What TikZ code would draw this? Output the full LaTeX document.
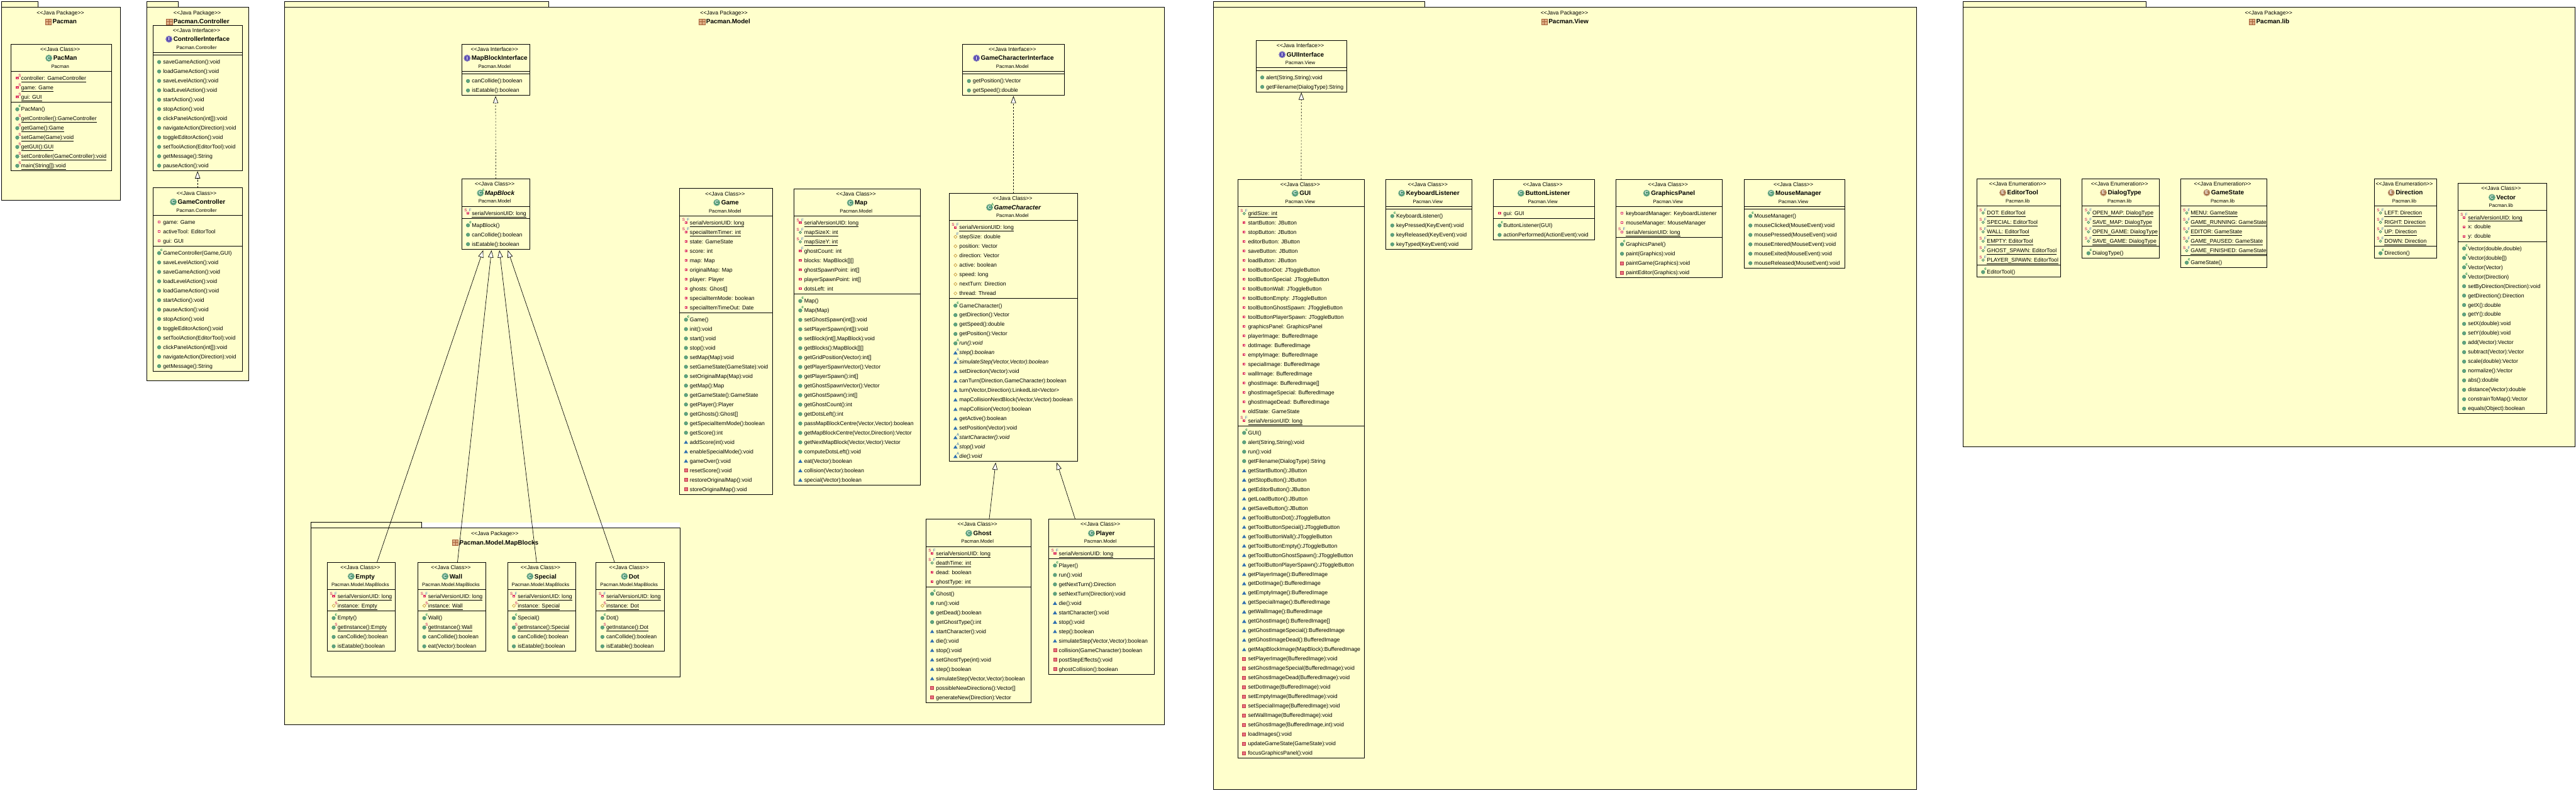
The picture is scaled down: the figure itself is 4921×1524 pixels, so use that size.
\documentclass[tikz,border=0pt]{standalone}
\usepackage{fontspec}
\usetikzlibrary{arrows.meta}
\newfontfamily\uf{Liberation Sans}
\definecolor{pkgy}{HTML}{FFFFCC}
\definecolor{privred}{HTML}{DE3A62}
\definecolor{sred}{HTML}{C8004E}
\definecolor{fblue}{HTML}{3A68B8}
\definecolor{cgreen}{HTML}{0A8040}
\definecolor{pubg}{HTML}{5FA37F}
\definecolor{pubd}{HTML}{3F8A66}
\definecolor{pkgb}{HTML}{2F6FB0}
\definecolor{mred}{HTML}{E8707C}
\definecolor{mredd}{HTML}{C23A4C}
\definecolor{protc}{HTML}{C89A3A}
\definecolor{clsg}{HTML}{4B9670}
\definecolor{ifp}{HTML}{5A4DB0}
\definecolor{enb}{HTML}{A8744A}
\definecolor{pkbr}{HTML}{DDAE85}
\definecolor{pkbd}{HTML}{A8623A}
\tikzset{
  basetext/.style={inner sep=0pt,outer sep=0pt,text=black},
  stereotext/.style={basetext,font=\uf\fontsize{10.5}{12}\selectfont},
  titletext/.style={basetext,font=\uf\bfseries\fontsize{12}{14}\selectfont},
  pkgtext/.style={basetext,font=\uf\fontsize{9.3}{11}\selectfont},
  rowtext/.style={basetext,font=\uf\fontsize{10.5}{12}\selectfont},
  supmark/.style={inner sep=0pt,outer sep=0pt,font=\uf\fontsize{7.5}{8}\selectfont},
  letter/.style={inner sep=0pt,outer sep=0pt,text=white,font=\uf\bfseries\fontsize{9}{10}\selectfont},
  classbox/.style={draw=black,line width=1pt,inner sep=0pt,outer sep=0pt},
  pkgbody/.style={draw=black,fill=pkgy,line width=1pt,inner sep=0pt,outer sep=0pt},
  parentarrow/.style={-{Triangle[open,fill=white,length=14pt,width=10pt]},black,line width=.8pt},
  realarrow/.style={parentarrow,dash pattern=on 3pt off 3pt},
}
\newcount\nid
\newcommand\tx[3][]{\global\advance\nid by 1 \node[#1] (n\the\nid) at (#2) {#3};}
\newcommand\ulin[1]{\setbox0=\hbox{#1}\rlap{\vrule width\wd0 height -2.9pt depth 3.7pt}\box0 }
% icon pieces (origin: box left edge, row baseline; y grows downward)
\newcommand\sqi{\fill[privred] (9.5,-6.5) rectangle (14.5,-1.5); \fill[white] (11.2,-4.8) rectangle (12.8,-3.2);}
\newcommand\hci{\draw[pubd,fill=pkgy,line width=1pt] (12,-3.5) circle (2.3pt);}
\newcommand\dmi{\draw[protc,line width=.8pt] (9,-4)--(12,-7)--(15,-4)--(12,-1)--cycle;}
\newcommand\pbi{\fill[pubg,draw=pubd,line width=.5pt] (12,-3.5) circle (3.4pt);}
\newcommand\tri{\fill[pkgb] (8,-.5)--(16,-.5)--(12,-7)--cycle;}
\newcommand\rdi{\fill[mred,draw=mredd,line width=.8pt] (9,-6.5) rectangle (15,-.5);}
\newcommand\Smark[1][16.7]{\tx[supmark,text=sred]{#1,-9}{S}}
\newcommand\Fmark[1][16.3]{\tx[supmark,text=fblue]{#1,-9}{F}}
\newcommand\Cmark{\tx[supmark,text=cgreen,font=\uf\bfseries\fontsize{7.5}{8}\selectfont]{16.7,-9}{c}}
\newcommand\Amark[1]{\tx[supmark,text=#1]{16.7,-9}{A}}
% kinds
\newcommand\ica{\sqi}\newcommand\fmta[1]{#1}
\newcommand\icas{\sqi\Smark}\newcommand\fmtas[1]{\ulin{#1}}
\newcommand\icasf{\sqi\Smark[7.5]\Fmark}\newcommand\fmtasf[1]{\ulin{#1}}
\newcommand\icaf{\sqi\Fmark}\newcommand\fmtaf[1]{#1}
\newcommand\icgsf{\hci\Smark[7.5]\Fmark}\newcommand\fmtgsf[1]{\ulin{#1}}
\newcommand\icp{\dmi}\newcommand\fmtp[1]{#1}
\newcommand\icpf{\dmi\Fmark}\newcommand\fmtpf[1]{#1}
\newcommand\icps{\dmi\Smark}\newcommand\fmtps[1]{\ulin{#1}}
\newcommand\icm{\pbi}\newcommand\fmtm[1]{#1}
\newcommand\icc{\pbi\Cmark}\newcommand\fmtc[1]{#1}
\newcommand\icms{\pbi\Smark}\newcommand\fmtms[1]{\ulin{#1}}
\newcommand\icma{\pbi\Amark{cgreen}}\newcommand\fmtma[1]{\itshape #1}
\newcommand\ict{\tri}\newcommand\fmtt[1]{#1}
\newcommand\icta{\tri\Amark{pkgb}}\newcommand\fmtta[1]{\itshape #1}
\newcommand\icr{\rdi}\newcommand\fmtr[1]{#1}
% class builder
\newcommand\cls[8]{%
  \def\cid{#1}\def\cxa{#2}\def\cxb{#3}\def\cyt{#4}%
  \pgfmathsetmacro\cxm{(#2+#3)/2}%
  \tx[stereotext,anchor=base]{\cxm-2,#4+13.5}{<<Java #5>>}%
  \tx[titletext,anchor=base]{\cxm+7.5,#4+31}{#7}%
  \begin{scope}[shift={([xshift=-8.5pt,yshift=4.2pt]n\the\nid.base west)}]
    \csname ci#6\endcsname
  \end{scope}
  \tx[pkgtext,anchor=base]{\cxm-2,#4+46}{#8}%
  \pgfmathsetmacro\cb{#4+64}%
}
\newcommand\cimk[2]{\fill[#1] (0,0) circle (6.5pt); \draw[white,opacity=.45,line width=.5pt] (0,0) circle (5.6pt); \tx[letter]{0,0}{#2}}
\newcommand\cic{\cimk{clsg}{C}}
\newcommand\cii{\cimk{ifp}{I}}
\newcommand\cie{\cimk{enb}{E}}
\newcommand\cica{\cimk{clsg}{C}\tx[supmark,text=cgreen]{5.5,-5}{A}}
\newcommand\sect{%
  \pgfmathsetmacro\cyy{\cb-12}%
  \draw[black,line width=1pt] (\cxa,\cyy)--(\cxb,\cyy);%
  \pgfmathsetmacro\cb{\cyy+17}%
}
\newcommand\row[2]{%
  \begin{scope}[shift={(\cxa,\cb)}]
    \csname ic#1\endcsname
    \tx[rowtext,anchor=base west]{19.5,0}{\csname fmt#1\endcsname{#2}}
  \end{scope}
  \pgfmathsetmacro\cb{\cb+18}%
}
\newcommand\closecls{%
  \pgfmathsetmacro\cyy{\cb-12}%
  \node[classbox,anchor=north west,minimum width={(\cxb-\cxa)*1pt},minimum height={(\cyy-\cyt)*1pt}] (\cid) at (\cxa,\cyt) {};%
}
% package: id x1 x2 tabright ytab ybody ybot title
\newcommand\pkg[8]{%
  \draw[black,fill=pkgy,line width=1pt] (#2,#5) rectangle (#4,#6);%
  \node[pkgbody,anchor=north west,minimum width={(#3-#2)*1pt},minimum height={(#7-#6)*1pt}] (#1) at (#2,#6) {};%
  \pgfmathsetmacro\pkm{(#2+#3)/2}%
  \tx[stereotext,anchor=base]{\pkm-1,#6+14}{<<Java Package>>}%
  \tx[titletext,anchor=base]{\pkm+7,#6+31.5}{#8}%
  \begin{scope}[shift={([xshift=-8pt,yshift=4.2pt]n\the\nid.base west)}]
    \fill[pkbr,draw=pkbd,line width=.6pt] (-5.5,-5.5) rectangle (5.5,5.5);
    \draw[pkbd,line width=.6pt] (-5.5,0)--(5.5,0) (0,-5.5)--(0,5.5);
  \end{scope}
}
\begin{document}
\begin{tikzpicture}[x=1pt,y=-1pt]
\fill[white,use as bounding box] (0,0) rectangle (4921,1524);
% ---------- packages
\pkg{pkgroot}{3}{230}{72}{3}{14}{382}{Pacman}
\pkg{pkgctrl}{281}{474.5}{340}{3}{14}{727}{Pacman.Controller}
\pkg{pkgmodel}{544}{2224}{1048}{3}{14}{1384}{Pacman.Model}
\fill[white] (806,998) rectangle (1299,1009);
\pkg{pkgblocks}{593.5}{1299}{806}{998}{1009}{1293}{Pacman.Model.MapBlocks}
\pkg{pkgview}{2318}{3661}{2722}{3}{14}{1508}{Pacman.View}
\pkg{pkglib}{3750}{4919.5}{4100}{3}{14}{853}{Pacman.lib}
% ---------- Pacman
\cls{pacman}{21}{213}{84.3}{Class}{c}{PacMan}{Pacman}
\sect
\row{as}{controller: GameController}
\row{as}{game: Game}
\row{as}{gui: GUI}
\sect
\row{c}{PacMan()}
\row{ms}{getController():GameController}
\row{ms}{getGame():Game}
\row{ms}{setGame(Game):void}
\row{ms}{getGUI():GUI}
\row{ms}{setController(GameController):void}
\row{ms}{main(String[]):void}
\closecls
% ---------- Controller
\cls{ctrlif}{292}{463}{48}{Interface}{i}{ControllerInterface}{Pacman.Controller}
\sect\sect
\row{m}{saveGameAction():void}
\row{m}{loadGameAction():void}
\row{m}{saveLevelAction():void}
\row{m}{loadLevelAction():void}
\row{m}{startAction():void}
\row{m}{stopAction():void}
\row{m}{clickPanelAction(int[]):void}
\row{m}{navigateAction(Direction):void}
\row{m}{toggleEditorAction():void}
\row{m}{setToolAction(EditorTool):void}
\row{m}{getMessage():String}
\row{m}{pauseAction():void}
\closecls
\cls{gamectrl}{292}{463}{359}{Class}{c}{GameController}{Pacman.Controller}
\sect
\row{a}{game: Game}
\row{a}{activeTool: EditorTool}
\row{a}{gui: GUI}
\sect
\row{c}{GameController(Game,GUI)}
\row{m}{saveLevelAction():void}
\row{m}{saveGameAction():void}
\row{m}{loadLevelAction():void}
\row{m}{loadGameAction():void}
\row{m}{startAction():void}
\row{m}{pauseAction():void}
\row{m}{stopAction():void}
\row{m}{toggleEditorAction():void}
\row{m}{setToolAction(EditorTool):void}
\row{m}{clickPanelAction(int[]):void}
\row{m}{navigateAction(Direction):void}
\row{m}{getMessage():String}
\closecls
% ---------- Model
\cls{mbif}{882}{1011.5}{84.3}{Interface}{i}{MapBlockInterface}{Pacman.Model}
\sect\sect
\row{m}{canCollide():boolean}
\row{m}{isEatable():boolean}
\closecls
\cls{mapblock}{882}{1012}{342}{Class}{ca}{\itshape MapBlock}{Pacman.Model}
\sect
\row{asf}{serialVersionUID: long}
\sect
\row{c}{MapBlock()}
\row{m}{canCollide():boolean}
\row{m}{isEatable():boolean}
\closecls
\cls{game}{1298.4}{1475.7}{360.3}{Class}{c}{Game}{Pacman.Model}
\sect
\row{asf}{serialVersionUID: long}
\row{asf}{specialItemTimer: int}
\row{a}{state: GameState}
\row{a}{score: int}
\row{a}{map: Map}
\row{a}{originalMap: Map}
\row{a}{player: Player}
\row{a}{ghosts: Ghost[]}
\row{a}{specialItemMode: boolean}
\row{a}{specialItemTimeOut: Date}
\sect
\row{c}{Game()}
\row{m}{init():void}
\row{m}{start():void}
\row{m}{stop():void}
\row{m}{setMap(Map):void}
\row{m}{setGameState(GameState):void}
\row{m}{setOriginalMap(Map):void}
\row{m}{getMap():Map}
\row{m}{getGameState():GameState}
\row{m}{getPlayer():Player}
\row{m}{getGhosts():Ghost[]}
\row{m}{getSpecialItemMode():boolean}
\row{m}{getScore():int}
\row{t}{addScore(int):void}
\row{t}{enableSpecialMode():void}
\row{t}{gameOver():void}
\row{r}{resetScore():void}
\row{r}{restoreOriginalMap():void}
\row{r}{storeOriginalMap():void}
\closecls
\cls{map}{1516.8}{1758}{360.6}{Class}{c}{Map}{Pacman.Model}
\sect
\row{asf}{serialVersionUID: long}
\row{gsf}{mapSizeX: int}
\row{gsf}{mapSizeY: int}
\row{af}{ghostCount: int}
\row{a}{blocks: MapBlock[][]}
\row{a}{ghostSpawnPoint: int[]}
\row{a}{playerSpawnPoint: int[]}
\row{a}{dotsLeft: int}
\sect
\row{c}{Map()}
\row{c}{Map(Map)}
\row{m}{setGhostSpawn(int[]):void}
\row{m}{setPlayerSpawn(int[]):void}
\row{m}{setBlock(int[],MapBlock):void}
\row{m}{getBlocks():MapBlock[][]}
\row{m}{getGridPosition(Vector):int[]}
\row{m}{getPlayerSpawnVector():Vector}
\row{m}{getPlayerSpawn():int[]}
\row{m}{getGhostSpawnVector():Vector}
\row{m}{getGhostSpawn():int[]}
\row{m}{getGhostCount():int}
\row{m}{getDotsLeft():int}
\row{m}{passMapBlockCentre(Vector,Vector):boolean}
\row{m}{getMapBlockCentre(Vector,Direction):Vector}
\row{m}{getNextMapBlock(Vector,Vector):Vector}
\row{m}{computeDotsLeft():void}
\row{t}{eat(Vector):boolean}
\row{t}{collision(Vector):boolean}
\row{t}{special(Vector):boolean}
\closecls
\cls{gcif}{1839}{2033}{84.3}{Interface}{i}{GameCharacterInterface}{Pacman.Model}
\sect\sect
\row{m}{getPosition():Vector}
\row{m}{getSpeed():double}
\closecls
\cls{gamechar}{1813.2}{2059}{369.5}{Class}{ca}{\itshape GameCharacter}{Pacman.Model}
\sect
\row{asf}{serialVersionUID: long}
\row{pf}{stepSize: double}
\row{p}{position: Vector}
\row{p}{direction: Vector}
\row{p}{active: boolean}
\row{p}{speed: long}
\row{p}{nextTurn: Direction}
\row{p}{thread: Thread}
\sect
\row{c}{GameCharacter()}
\row{m}{getDirection():Vector}
\row{m}{getSpeed():double}
\row{m}{getPosition():Vector}
\row{ma}{run():void}
\row{ta}{step():boolean}
\row{ta}{simulateStep(Vector,Vector):boolean}
\row{t}{setDirection(Vector):void}
\row{t}{canTurn(Direction,GameCharacter):boolean}
\row{t}{turn(Vector,Direction):LinkedList<Vector>}
\row{t}{mapCollisionNextBlock(Vector,Vector):boolean}
\row{t}{mapCollision(Vector):boolean}
\row{t}{getActive():boolean}
\row{t}{setPosition(Vector):void}
\row{ta}{startCharacter():void}
\row{ta}{stop():void}
\row{ta}{die():void}
\closecls
\cls{ghost}{1768.7}{1969.7}{992}{Class}{c}{Ghost}{Pacman.Model}
\sect
\row{asf}{serialVersionUID: long}
\row{gsf}{deathTime: int}
\row{a}{dead: boolean}
\row{a}{ghostType: int}
\sect
\row{c}{Ghost()}
\row{m}{run():void}
\row{m}{getDead():boolean}
\row{m}{getGhostType():int}
\row{t}{startCharacter():void}
\row{t}{die():void}
\row{t}{stop():void}
\row{t}{setGhostType(int):void}
\row{t}{step():boolean}
\row{t}{simulateStep(Vector,Vector):boolean}
\row{r}{possibleNewDirections():Vector[]}
\row{r}{generateNew(Direction):Vector}
\closecls
\cls{player}{2003.3}{2204.7}{992}{Class}{c}{Player}{Pacman.Model}
\sect
\row{asf}{serialVersionUID: long}
\sect
\row{c}{Player()}
\row{m}{run():void}
\row{m}{getNextTurn():Direction}
\row{m}{setNextTurn(Direction):void}
\row{t}{die():void}
\row{t}{startCharacter():void}
\row{t}{stop():void}
\row{t}{step():boolean}
\row{t}{simulateStep(Vector,Vector):boolean}
\row{r}{collision(GameCharacter):boolean}
\row{r}{postStepEffects():void}
\row{r}{ghostCollision():boolean}
\closecls
% ---------- MapBlocks
\cls{empty}{625.4}{755}{1074.3}{Class}{c}{Empty}{Pacman.Model.MapBlocks}
\sect
\row{asf}{serialVersionUID: long}
\row{ps}{instance: Empty}
\sect
\row{c}{Empty()}
\row{ms}{getInstance():Empty}
\row{m}{canCollide():boolean}
\row{m}{isEatable():boolean}
\closecls
\cls{wall}{798.5}{928.4}{1074.3}{Class}{c}{Wall}{Pacman.Model.MapBlocks}
\sect
\row{asf}{serialVersionUID: long}
\row{ps}{instance: Wall}
\sect
\row{c}{Wall()}
\row{ms}{getInstance():Wall}
\row{m}{canCollide():boolean}
\row{m}{eat(Vector):boolean}
\closecls
\cls{special}{969.6}{1099.5}{1074.3}{Class}{c}{Special}{Pacman.Model.MapBlocks}
\sect
\row{asf}{serialVersionUID: long}
\row{ps}{instance: Special}
\sect
\row{c}{Special()}
\row{ms}{getInstance():Special}
\row{m}{canCollide():boolean}
\row{m}{isEatable():boolean}
\closecls
\cls{dot}{1138.8}{1268.7}{1074.3}{Class}{c}{Dot}{Pacman.Model.MapBlocks}
\sect
\row{asf}{serialVersionUID: long}
\row{ps}{instance: Dot}
\sect
\row{c}{Dot()}
\row{ms}{getInstance():Dot}
\row{m}{canCollide():boolean}
\row{m}{isEatable():boolean}
\closecls
% ---------- View
\cls{guiif}{2399.3}{2572.7}{77.5}{Interface}{i}{GUIInterface}{Pacman.View}
\sect\sect
\row{m}{alert(String,String):void}
\row{m}{getFilename(DialogType):String}
\closecls
\cls{gui}{2364.7}{2606.7}{342.5}{Class}{c}{GUI}{Pacman.View}
\sect
\row{gsf}{gridSize: int}
\row{a}{startButton: JButton}
\row{a}{stopButton: JButton}
\row{a}{editorButton: JButton}
\row{a}{saveButton: JButton}
\row{a}{loadButton: JButton}
\row{a}{toolButtonDot: JToggleButton}
\row{a}{toolButtonSpecial: JToggleButton}
\row{a}{toolButtonWall: JToggleButton}
\row{a}{toolButtonEmpty: JToggleButton}
\row{a}{toolButtonGhostSpawn: JToggleButton}
\row{a}{toolButtonPlayerSpawn: JToggleButton}
\row{a}{graphicsPanel: GraphicsPanel}
\row{a}{playerImage: BufferedImage}
\row{a}{dotImage: BufferedImage}
\row{a}{emptyImage: BufferedImage}
\row{a}{specialImage: BufferedImage}
\row{a}{wallImage: BufferedImage}
\row{a}{ghostImage: BufferedImage[]}
\row{a}{ghostImageSpecial: BufferedImage}
\row{a}{ghostImageDead: BufferedImage}
\row{a}{oldState: GameState}
\row{asf}{serialVersionUID: long}
\sect
\row{c}{GUI()}
\row{m}{alert(String,String):void}
\row{m}{run():void}
\row{m}{getFilename(DialogType):String}
\row{t}{getStartButton():JButton}
\row{t}{getStopButton():JButton}
\row{t}{getEditorButton():JButton}
\row{t}{getLoadButton():JButton}
\row{t}{getSaveButton():JButton}
\row{t}{getToolButtonDot():JToggleButton}
\row{t}{getToolButtonSpecial():JToggleButton}
\row{t}{getToolButtonWall():JToggleButton}
\row{t}{getToolButtonEmpty():JToggleButton}
\row{t}{getToolButtonGhostSpawn():JToggleButton}
\row{t}{getToolButtonPlayerSpawn():JToggleButton}
\row{t}{getPlayerImage():BufferedImage}
\row{t}{getDotImage():BufferedImage}
\row{t}{getEmptyImage():BufferedImage}
\row{t}{getSpecialImage():BufferedImage}
\row{t}{getWallImage():BufferedImage}
\row{t}{getGhostImage():BufferedImage[]}
\row{t}{getGhostImageSpecial():BufferedImage}
\row{t}{getGhostImageDead():BufferedImage}
\row{t}{getMapBlockImage(MapBlock):BufferedImage}
\row{r}{setPlayerImage(BufferedImage):void}
\row{r}{setGhostImageSpecial(BufferedImage):void}
\row{r}{setGhostImageDead(BufferedImage):void}
\row{r}{setDotImage(BufferedImage):void}
\row{r}{setEmptyImage(BufferedImage):void}
\row{r}{setSpecialImage(BufferedImage):void}
\row{r}{setWallImage(BufferedImage):void}
\row{r}{setGhostImage(BufferedImage,int):void}
\row{r}{loadImages():void}
\row{r}{updateGameState(GameState):void}
\row{r}{focusGraphicsPanel():void}
\closecls
\cls{keyl}{2647.7}{2811.4}{342.3}{Class}{c}{KeyboardListener}{Pacman.View}
\sect\sect
\row{c}{KeyboardListener()}
\row{m}{keyPressed(KeyEvent):void}
\row{m}{keyReleased(KeyEvent):void}
\row{m}{keyTyped(KeyEvent):void}
\closecls
\cls{btnl}{2852.7}{3045.7}{342.3}{Class}{c}{ButtonListener}{Pacman.View}
\sect
\row{a}{gui: GUI}
\sect
\row{c}{ButtonListener(GUI)}
\row{m}{actionPerformed(ActionEvent):void}
\closecls
\cls{gpanel}{3086.5}{3290.5}{342.3}{Class}{c}{GraphicsPanel}{Pacman.View}
\sect
\row{a}{keyboardManager: KeyboardListener}
\row{a}{mouseManager: MouseManager}
\row{asf}{serialVersionUID: long}
\sect
\row{c}{GraphicsPanel()}
\row{m}{paint(Graphics):void}
\row{r}{paintGame(Graphics):void}
\row{r}{paintEditor(Graphics):void}
\closecls
\cls{mousem}{3331.8}{3524}{342.3}{Class}{c}{MouseManager}{Pacman.View}
\sect\sect
\row{c}{MouseManager()}
\row{m}{mouseClicked(MouseEvent):void}
\row{m}{mousePressed(MouseEvent):void}
\row{m}{mouseEntered(MouseEvent):void}
\row{m}{mouseExited(MouseEvent):void}
\row{m}{mouseReleased(MouseEvent):void}
\closecls
% ---------- lib
\cls{edtool}{3776.3}{3936.7}{341.3}{Enumeration}{e}{EditorTool}{Pacman.lib}
\sect
\row{gsf}{DOT: EditorTool}
\row{gsf}{SPECIAL: EditorTool}
\row{gsf}{WALL: EditorTool}
\row{gsf}{EMPTY: EditorTool}
\row{gsf}{GHOST\_SPAWN: EditorTool}
\row{gsf}{PLAYER\_SPAWN: EditorTool}
\sect
\row{c}{EditorTool()}
\closecls
\cls{dlgtype}{3977.6}{4124.5}{341.3}{Enumeration}{e}{DialogType}{Pacman.lib}
\sect
\row{gsf}{OPEN\_MAP: DialogType}
\row{gsf}{SAVE\_MAP: DialogType}
\row{gsf}{OPEN\_GAME: DialogType}
\row{gsf}{SAVE\_GAME: DialogType}
\sect
\row{c}{DialogType()}
\closecls
\cls{gstate}{4165.3}{4330.6}{341.3}{Enumeration}{e}{GameState}{Pacman.lib}
\sect
\row{gsf}{MENU: GameState}
\row{gsf}{GAME\_RUNNING: GameState}
\row{gsf}{EDITOR: GameState}
\row{gsf}{GAME\_PAUSED: GameState}
\row{gsf}{GAME\_FINISHED: GameState}
\sect
\row{c}{GameState()}
\closecls
\cls{dirn}{4535.5}{4654.4}{341.3}{Enumeration}{e}{Direction}{Pacman.lib}
\sect
\row{gsf}{LEFT: Direction}
\row{gsf}{RIGHT: Direction}
\row{gsf}{UP: Direction}
\row{gsf}{DOWN: Direction}
\sect
\row{c}{Direction()}
\closecls
\cls{vect}{4695.2}{4864.4}{350.3}{Class}{c}{Vector}{Pacman.lib}
\sect
\row{asf}{serialVersionUID: long}
\row{a}{x: double}
\row{a}{y: double}
\sect
\row{c}{Vector(double,double)}
\row{c}{Vector(double[])}
\row{c}{Vector(Vector)}
\row{c}{Vector(Direction)}
\row{m}{setByDirection(Direction):void}
\row{m}{getDirection():Direction}
\row{m}{getX():double}
\row{m}{getY():double}
\row{m}{setX(double):void}
\row{m}{setY(double):void}
\row{m}{add(Vector):Vector}
\row{m}{subtract(Vector):Vector}
\row{m}{scale(double):Vector}
\row{m}{normalize():Vector}
\row{m}{abs():double}
\row{m}{distance(Vector):double}
\row{m}{constrainToMap():Vector}
\row{m}{equals(Object):boolean}
\closecls
% ---------- connectors
\draw[realarrow] (gamectrl.north) -- ([yshift=-1pt]ctrlif.south);
\draw[realarrow] (mapblock.north) -- ([yshift=-1pt]mbif.south);
\draw[realarrow] (gamechar.north) -- ([yshift=-1pt]gcif.south);
\draw[realarrow] (gui.north) -- ([yshift=-1pt]guiif.south);
\draw[parentarrow] ([xshift=30pt]empty.north) -- ([xshift=-24pt,yshift=-2pt]mapblock.south);
\draw[parentarrow] ([xshift=10.5pt]wall.north) -- ([xshift=-8pt,yshift=-2pt]mapblock.south);
\draw[parentarrow] ([xshift=-9.5pt]special.north) -- ([xshift=7pt,yshift=-2pt]mapblock.south);
\draw[parentarrow] ([xshift=-29.7pt]dot.north) -- ([xshift=23pt,yshift=-2pt]mapblock.south);
\draw[parentarrow] ([xshift=20.5pt]ghost.north) -- ([xshift=-34pt,yshift=-2pt]gamechar.south);
\draw[parentarrow] ([xshift=-50pt]player.north) -- ([xshift=82.6pt,yshift=-2pt]gamechar.south);
\end{tikzpicture}
\end{document}
